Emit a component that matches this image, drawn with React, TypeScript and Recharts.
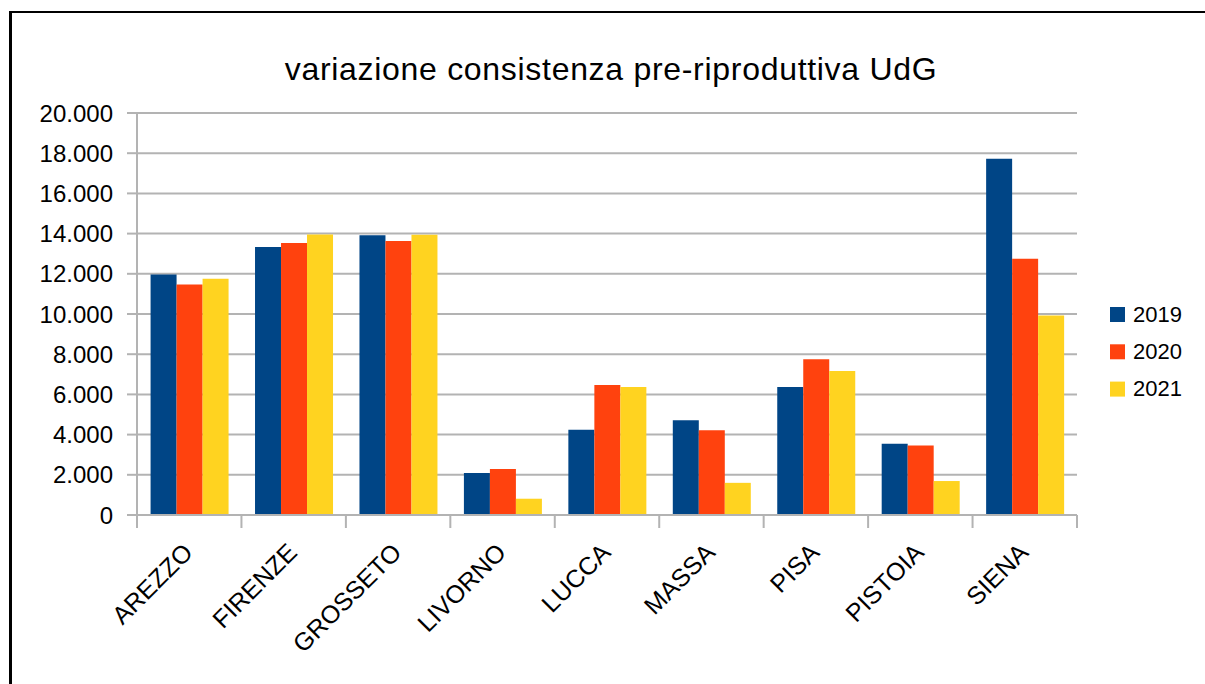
import React from 'react';
import { BarChart, Bar, XAxis, YAxis, CartesianGrid } from 'recharts';

const categories = ['AREZZO', 'FIRENZE', 'GROSSETO', 'LIVORNO', 'LUCCA', 'MASSA', 'PISA', 'PISTOIA', 'SIENA'];
const seriesNames = ['2019', '2020', '2021'];
const values2019 = [11970, 13330, 13920, 2090, 4240, 4720, 6370, 3540, 17720];
const values2020 = [11470, 13530, 13630, 2290, 6470, 4220, 7750, 3460, 12750];
const values2021 = [11750, 13950, 13940, 810, 6370, 1600, 7170, 1690, 9920];
const yTicks = [0, 2000, 4000, 6000, 8000, 10000, 12000, 14000, 16000, 18000, 20000];
const titleText = 'variazione consistenza pre-riproduttiva UdG';

const COLORS = ['#004586', '#ff420e', '#ffd320'];
const GRID = '#b3b3b3';
const FONT = '"Liberation Sans", Arial, sans-serif';

const seriesValues = [values2019, values2020, values2021];
const rows = categories.map((c, i) => {
  const r: Record<string, string | number> = { region: c, idx: i + 0.5 };
  seriesNames.forEach((s, k) => {
    r[s] = seriesValues[k][i];
  });
  return r;
});
// boundary ticks (integers) and label ticks (category centres)
const xTicks: number[] = [];
for (let i = 0; i <= categories.length; i++) {
  xTicks.push(i);
  if (i < categories.length) xTicks.push(i + 0.5);
}

const fmt = (v: number) => String(v).replace(/\B(?=(\d{3})+(?!\d))/g, '.');

const XTick = (props: any) => {
  const { x, y, payload } = props;
  const v = Number(payload.value);
  if (Number.isInteger(v)) {
    return <line x1={x} x2={x} y1={y} y2={y + 13} stroke={GRID} strokeWidth={2} />;
  }
  const label = categories[Math.floor(v)];
  return (
    <g transform={`translate(${x + 5},${y + 39})`}>
      <text
        x={0}
        y={0}
        transform="rotate(-45)"
        textAnchor="end"
        fill="#000"
        fontSize={25}
        fontFamily={FONT}
      >
        {label}
      </text>
    </g>
  );
};

export default function App() {
  return (
    <div
      style={{
        position: 'absolute',
        left: 0,
        top: 0,
        width: 1205,
        height: 684,
        background: '#fff',
        overflow: 'hidden',
      }}
    >
      <div
        style={{
          position: 'absolute',
          left: 9,
          top: 11,
          width: 1400,
          height: 900,
          borderLeft: '3px solid #000',
          borderTop: '2px solid #000',
          boxSizing: 'border-box',
        }}
      />
      <div style={{ position: 'absolute', left: 0, top: 0 }}>
        <BarChart
          width={1205}
          height={684}
          data={rows}
          margin={{ top: 113, right: 128, bottom: 0, left: 0 }}
          barCategoryGap="13%"
          barGap={0}
        >
          <CartesianGrid vertical={false} stroke={GRID} strokeWidth={2} xAxisId="c" yAxisId="l" />
          <XAxis xAxisId="c" dataKey="region" hide height={0} />
          <XAxis
            xAxisId="b"
            type="number"
            dataKey="idx"
            domain={[0, categories.length]}
            ticks={xTicks}
            interval={0}
            tickSize={0}
            tickMargin={0}
            tickLine={false}
            axisLine={{ stroke: GRID, strokeWidth: 2 }}
            tick={<XTick />}
            height={169}
          />
          <YAxis
            yAxisId="l"
            width={137}
            domain={[0, 20000]}
            ticks={yTicks}
            interval={0}
            tickFormatter={fmt}
            tickSize={10}
            tickMargin={14}
            axisLine={{ stroke: GRID, strokeWidth: 2 }}
            tickLine={{ stroke: GRID, strokeWidth: 2 }}
            tick={{ fill: '#000', fontSize: 24, fontFamily: FONT }}
          />
          <YAxis
            yAxisId="r"
            orientation="right"
            width={0}
            domain={[0, 20000]}
            tick={false}
            tickLine={false}
            axisLine={{ stroke: GRID, strokeWidth: 2 }}
          />
          {seriesNames.map((s, k) => (
            <Bar
              key={s}
              dataKey={s}
              xAxisId="c"
              yAxisId="l"
              fill={COLORS[k]}
              isAnimationActive={false}
            />
          ))}
        </BarChart>
      </div>
      <svg
        width={1205}
        height={684}
        style={{ position: 'absolute', left: 0, top: 0, pointerEvents: 'none' }}
      >
        <text
          x={611}
          y={80}
          textAnchor="middle"
          fontSize={32}
          fontFamily={FONT}
          fill="#000"
          letterSpacing={0.7}
        >
          {titleText}
        </text>
        {seriesNames.map((s, k) => (
          <g key={s} transform={`translate(1110,${307 + k * 37.3})`}>
            <rect x={0} y={0} width={15} height={15} fill={COLORS[k]} />
            <text x={23} y={14.5} fontSize={22} fontFamily={FONT} fill="#000">
              {s}
            </text>
          </g>
        ))}
      </svg>
    </div>
  );
}
